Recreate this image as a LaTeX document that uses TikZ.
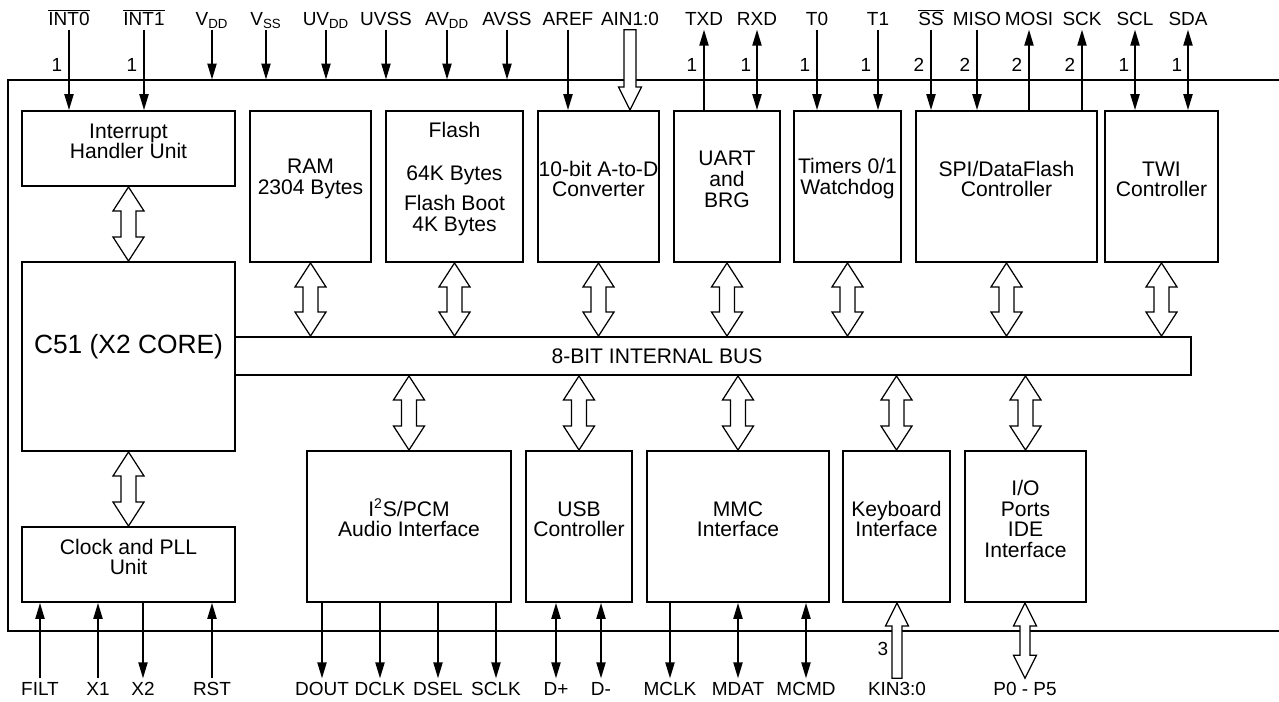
\documentclass[tikz,border=0pt]{standalone}
\usepackage{fontspec}
\setmainfont{Liberation Sans}
\usetikzlibrary{arrows.meta,positioning,fit,calc}

% pin name with a bar over it
\newcommand{\ovl}[1]{$\overline{\mbox{#1}}$}
% hollow two-way bus arrow: top point, bottom point, head half width, shaft half width, head length
\newcommand{\fatboth}[5]{%
  \draw[hollow] let \p1=#1, \p2=#2 in
    (\x1,\y1) -- (\x1+#3,\y1-#5) -- (\x1+#4,\y1-#5) -- (\x1+#4,\y2+#5)
    -- (\x1+#3,\y2+#5) -- (\x1,\y2) -- (\x1-#3,\y2+#5) -- (\x1-#4,\y2+#5)
    -- (\x1-#4,\y1-#5) -- (\x1-#3,\y1-#5) -- cycle;}
% hollow one-way arrow: tail, tip, head half width, shaft half width, head length
\newcommand{\fatone}[5]{%
  \draw[hollow] let \p1=#1, \p2=#2, \n1={sign(\y2-\y1)} in
    (\x2,\y2) -- (\x2+#3,{\y2-(\n1)*#5}) -- (\x2+#4,{\y2-(\n1)*#5}) -- (\x2+#4,\y1)
    -- (\x2-#4,\y1) -- (\x2-#4,{\y2-(\n1)*#5}) -- (\x2-#3,{\y2-(\n1)*#5}) -- cycle;}

\begin{document}
\begin{tikzpicture}[x=0.02cm, y=-0.02cm,
  blk/.style={draw, line width=1.1pt, inner sep=0pt, align=center, font=\fontsize{12}{11.8}\selectfont},
  frame/.style={draw, line width=0.6pt, inner sep=0pt},
  pinlbl/.style={inner sep=2pt, text height=7.8pt, text depth=0pt, font=\fontsize{10.8}{12}\selectfont},
  num/.style={inner sep=0pt, font=\fontsize{10.8}{12}\selectfont},
  sig/.style={line width=0.85pt, -{Triangle[length=9pt,width=5.2pt]}},
  sigboth/.style={line width=0.85pt, {Triangle[length=9pt,width=5.2pt]}-{Triangle[length=9pt,width=5.2pt]}},
  hollow/.style={draw, fill=white, line width=0.7pt}
]
\useasboundingbox (0,0) rectangle (1279,702);

% chip outline, open to the right
\node[frame, fit={(8,80) (1300,631)}] (chip) {};

% blocks
\node[blk, fit={(22,111) (235,186)}] (ihu) {Interrupt\\Handler Unit};
\node[blk, fit={(250,111) (371,262)}] (ram) {RAM\\2304 Bytes};
\node[blk, fit={(386,111) (523,262)}] (flash) {Flash\\[12.7pt]64K Bytes\\[5.3pt]Flash Boot\\4K Bytes};
\node[blk, fit={(538,111) (659,262)}] (adc) {10-bit A-to-D\\Converter};
\node[blk, fit={(674,111) (780,262)}] (uart) {UART\\and\\BRG};
\node[blk, fit={(794,111) (901,262)}] (tmr) {Timers 0/1\\Watchdog};
\node[blk, fit={(916,111) (1097,262)}] (spi) {SPI/DataFlash\\Controller};
\node[blk, fit={(1105,111) (1218,262)}] (twi) {TWI\\Controller};
\node[blk, fit={(22,262) (235,451)}, font=\fontsize{15}{18}\selectfont] (c51) {C51 (X2 CORE)};
\node[blk, fit={(235,337) (1191,375)}] (bus) {};
\node[font=\fontsize{12}{14}\selectfont] (buslbl) at (657,356) {8-BIT INTERNAL BUS};
\node[blk, fit={(22,527) (235,602)}] (clk) {Clock and PLL\\Unit};
\node[blk, fit={(307,451) (511,602)}] (i2s) {I\textsuperscript{2}S/PCM\\Audio Interface};
\node[blk, fit={(526,451) (632,602)}] (usb) {USB\\Controller};
\node[blk, fit={(647,451) (829,602)}] (mmc) {MMC\\Interface};
\node[blk, fit={(843,451) (950,602)}] (kbd) {Keyboard\\Interface};
\node[blk, fit={(965,451) (1086,602)}] (io) {I/O\\Ports\\IDE\\Interface};

% internal bus arrows
\fatboth{(ihu.south)}{(c51.north)}{0.31cm}{0.15cm}{0.48cm}
\fatboth{(c51.south)}{(clk.north)}{0.31cm}{0.15cm}{0.48cm}
\foreach \b in {ram,flash,adc,uart,tmr,spi,twi}
  \fatboth{(\b.south)}{(\b.south |- bus.north)}{0.31cm}{0.15cm}{0.48cm};
\foreach \b in {i2s,usb,mmc,kbd,io}
  \fatboth{(\b.north |- bus.south)}{(\b.north)}{0.31cm}{0.15cm}{0.48cm};

% supply pins
\foreach \px/\nm/\txt in {212/vdd/V\textsubscript{DD}, 266/vss/V\textsubscript{SS}, 326/uvdd/UV\textsubscript{DD},
    386/uvss/UVSS, 447/avdd/AV\textsubscript{DD}, 507/avss/AVSS}{
  \node[pinlbl] (\nm) at (\px,19) {\txt};
  \draw[sig] (\nm.south) -- (\nm.south |- chip.north);
}
% top inputs
\foreach \px/\nm/\txt/\dst/\cnt in {69/int0/\ovl{INT0}/ihu/1, 144/int1/\ovl{INT1}/ihu/1, 817/tzero/T0/tmr/1,
    878/tone/T1/tmr/1, 931/ss/\ovl{SS}/spi/2, 977/miso/MISO/spi/2}{
  \node[pinlbl] (\nm) at (\px,19) {\txt};
  \node[num] (n\nm) at (\px-12,65) {\cnt};
  \draw[sig] (\nm.south) -- (\nm.south |- \dst.north);
}
\node[pinlbl] (aref) at (568,19) {AREF};
\draw[sig] (aref.south) -- (aref.south |- adc.north);
\node[pinlbl] (ain) at (630,19) {AIN1:0};
\fatone{(ain.south)}{(ain.south |- adc.north)}{0.23cm}{0.12cm}{0.46cm}
% top outputs
\foreach \px/\nm/\txt/\dst/\cnt in {704/txd/TXD/uart/1, 1029/mosi/MOSI/spi/2, 1082/sck/SCK/spi/2}{
  \node[pinlbl] (\nm) at (\px,19) {\txt};
  \node[num] (n\nm) at (\px-12,65) {\cnt};
  \draw[sig] (\nm.south |- \dst.north) -- (\nm.south);
}
% top both ways
\foreach \px/\nm/\txt/\dst/\cnt in {757/rxd/RXD/uart/1, 1135/scl/SCL/twi/1, 1188/sda/SDA/twi/1}{
  \node[pinlbl] (\nm) at (\px,19) {\txt};
  \node[num] (n\nm) at (\px-11,65) {\cnt};
  \draw[sigboth] (\nm.south) -- (\nm.south |- \dst.north);
}

% bottom inputs
\foreach \px/\nm/\txt/\dst in {40/filt/FILT/clk, 98/xa/X1/clk, 212/rst/RST/clk}{
  \node[pinlbl] (\nm) at (\px,689) {\txt};
  \draw[sig] (\nm.north) -- (\nm.north |- \dst.south);
}
% bottom outputs
\foreach \px/\nm/\txt/\dst in {143/xb/X2/clk, 322/dout/DOUT/i2s, 380/dclk/DCLK/i2s, 438/dsel/DSEL/i2s,
    496/sclk/SCLK/i2s, 670/mclk/MCLK/mmc}{
  \node[pinlbl] (\nm) at (\px,689) {\txt};
  \draw[sig] (\nm.north |- \dst.south) -- (\nm.north);
}
% bottom both ways
\foreach \px/\nm/\txt/\dst in {556/dp/D+/usb, 601/dm/D-/usb, 738/mdat/MDAT/mmc, 806/mcmd/MCMD/mmc}{
  \node[pinlbl] (\nm) at (\px,689) {\txt};
  \draw[sigboth] (\nm.north) -- (\nm.north |- \dst.south);
}
\node[pinlbl] (kin) at (897,689) {KIN3:0};
\node[num] (nkin) at (883,649) {3};
\fatone{(kin.north)}{(kin.north |- kbd.south)}{0.23cm}{0.1cm}{0.46cm}
\node[pinlbl] (port) at (1025,689) {P0 - P5};
\fatboth{(port.north |- io.south)}{(port.north)}{0.23cm}{0.1cm}{0.46cm}
\end{tikzpicture}
\end{document}
